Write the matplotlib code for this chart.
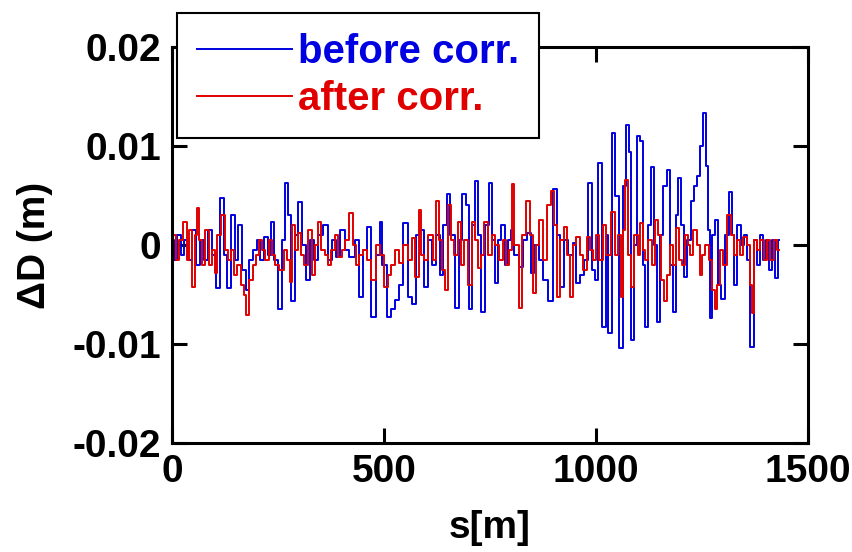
import numpy as np
import matplotlib
matplotlib.use("Agg")
from matplotlib import pyplot as plt

# s [m] and dispersion deviation [mm -> scaled below]
s_before = [0, 8, 16, 24, 32, 42, 52, 60, 70, 80, 90, 100, 106, 118, 126, 134, 144, 152, 160, 170,
            178, 186, 196, 204, 212, 222, 230, 236, 244, 255, 262, 271, 278, 285, 294, 302, 310, 321, 330, 340,
            350, 363, 372, 382, 392, 402, 412, 425, 436, 446, 456, 465, 476, 486, 493, 500, 512, 520, 530, 540,
            552, 560, 571, 580, 589, 598, 608, 618, 627, 636, 644, 653, 661, 672, 680, 688, 697, 705, 712, 717,
            725, 733, 742, 752, 758, 764, 772, 781, 790, 797, 804, 812, 823, 832, 842, 850, 860, 870, 880, 896,
            903, 912, 920, 930, 940, 950, 958, 968, 976, 986, 994, 1000, 1011, 1020, 1026, 1033, 1042, 1050, 1061, 1068,
            1075, 1080, 1087, 1095, 1100, 1108, 1114, 1120, 1127, 1134, 1140, 1148, 1155, 1162, 1172, 1178, 1186, 1192, 1198, 1205,
            1212, 1220, 1228, 1235, 1242, 1250, 1257, 1263, 1267, 1271, 1278, 1286, 1292, 1300, 1310, 1318, 1324, 1330, 1338, 1345,
            1352, 1360, 1370, 1376, 1385, 1392, 1398, 1405, 1412, 1420, 1428, 1432]
d_before = [0.5, -1.5, 1.0, -1.0, 0.5, -1.5, 1.5, -2.0, 0.5, -1.5, 1.5, -1.0, -4.3, 4.8, -1.0, -4.3, 3.0, -1.5, 2.0, -2.5,
            -4.5, -1.5, -0.5, 0.5, -1.5, 0.8, -1.0, 2.3, -1.5, -6.4, 0.5, 6.3, 3.0, -5.6, 1.0, 4.3, 0.0, -3.5, 0.5, -1.5,
            1.0, 2.0, -1.5, 0.5, -1.2, 1.5, -0.5, -1.2, 0.5, -5.2, -0.5, 1.8, -7.3, -1.0, 2.3, -2.0, -7.3, -6.5, -5.5, -4.0,
            2.2, -5.2, -5.9, 1.0, 1.5, -4.2, 0.5, -2.0, 1.0, -3.0, 2.0, 5.2, 1.0, -6.3, 0.5, 5.2, 4.0, -6.4, 2.0, 6.5,
            1.0, -6.8, 2.0, 6.3, 0.5, -3.8, 0.5, 2.0, -2.0, 0.5, 1.5, -1.0, -2.2, 0.5, 1.2, -2.8, 0.0, -1.5, -3.5, -5.6,
            5.7, 1.0, -4.2, 0.5, -1.0, 0.2, -3.8, -3.0, -1.5, 6.3, -2.5, -3.5, 8.3, -8.3, 1.0, -8.9, 11.3, 5.0, -10.4, 6.0,
            12.1, 9.4, -9.6, 0.0, 11.0, 10.5, -2.0, -8.3, 2.0, 7.9, 0.0, -7.8, 1.0, 6.0, 7.6, -2.0, -6.8, 3.0, 6.8, 2.0,
            -3.2, 0.5, 4.5, 6.0, 7.0, 10.0, 13.3, 8.0, 1.5, -7.4, 1.0, 2.5, -4.0, -5.4, 1.0, 5.4, 1.0, -4.0, 2.0, 0.0,
            1.0, -1.5, -10.3, 0.5, -2.0, 1.0, -1.5, 0.5, -2.5, 0.5, -3.3, 0.5]

s_after = [0, 6, 12, 20, 31, 38, 44, 50, 56, 61, 68, 75, 82, 90, 98, 103, 110, 120, 128, 136,
           144, 150, 158, 166, 172, 179, 186, 194, 200, 208, 216, 224, 232, 240, 248, 255, 261, 268, 275, 280,
           287, 294, 301, 308, 316, 326, 333, 340, 348, 356, 364, 372, 380, 388, 396, 405, 412, 422, 430, 438,
           446, 455, 465, 476, 486, 494, 505, 512, 520, 530, 540, 552, 560, 570, 578, 585, 592, 598, 610, 620,
           627, 635, 641, 648, 655, 662, 670, 678, 686, 694, 702, 712, 719, 726, 733, 741, 750, 758, 768, 776,
           784, 792, 798, 804, 812, 823, 830, 842, 848, 855, 862, 870, 880, 889, 898, 905, 912, 920, 928, 936,
           944, 950, 958, 966, 975, 982, 990, 996, 1005, 1012, 1020, 1028, 1042, 1050, 1056, 1061, 1067, 1073, 1080, 1087,
           1095, 1102, 1108, 1114, 1120, 1128, 1136, 1144, 1150, 1158, 1166, 1172, 1180, 1186, 1194, 1200, 1206, 1213, 1220, 1226,
           1234, 1242, 1248, 1255, 1262, 1270, 1278, 1283, 1290, 1297, 1305, 1316, 1322, 1328, 1336, 1344, 1352, 1360, 1366, 1370,
           1376, 1384, 1392, 1400, 1408, 1416, 1424, 1432]
d_after = [-1.0, 1.0, -1.5, 0.5, 2.3, -1.5, 1.5, -4.2, 1.0, 3.7, 0.5, -2.0, 1.5, -2.0, -0.5, -2.8, 1.0, 3.0, -0.5, -1.5,
           -0.5, -3.0, -2.0, -4.0, -5.0, -7.1, -3.5, -2.0, -1.0, 0.5, -0.5, -1.5, 0.5, -1.0, -2.0, -2.5, -2.5, -0.5, -1.5, -3.7,
           2.0, -0.5, 1.2, -1.0, -2.0, 1.5, -3.0, 0.0, 2.3, -0.5, -1.0, -2.0, -0.5, 1.0, -1.2, -0.5, 0.5, 3.2, 0.0, -2.0,
           -1.0, -0.5, -1.5, -3.5, 0.0, -1.0, -4.2, -3.0, -2.0, -0.5, -1.8, 0.0, -1.5, 0.7, -3.2, 3.5, -1.0, -1.5, 1.0, -1.5,
           4.5, 0.5, -2.5, -4.5, 4.0, 0.5, -1.0, 2.3, -2.0, 0.5, -4.0, 2.3, 0.5, -2.3, -1.0, 2.3, -1.0, 1.0, 0.0, -1.5,
           0.5, -2.0, -0.5, 6.2, 0.0, -6.3, 1.0, 4.5, 1.0, -4.8, 0.0, 2.5, -1.5, 4.0, 5.5, 2.0, -5.2, 0.5, 1.8, -1.0,
           -5.2, 0.0, 0.8, -1.0, -2.5, 0.8, -0.5, -1.5, 1.0, -1.5, 2.0, -1.0, 3.3, -1.0, 1.0, -5.2, 1.5, 6.6, -1.0, -4.2,
           1.0, -1.0, 2.2, -0.5, -1.5, 0.5, -2.0, 2.5, 1.0, -3.5, -5.6, -3.0, 0.0, -2.0, 1.7, -1.5, -2.0, 1.0, 0.0, -1.0,
           1.5, 0.0, -3.0, -1.0, 0.0, -1.5, -4.5, -6.4, -4.0, -0.5, -2.0, 3.0, 1.0, -1.0, 0.5, -1.0, 0.8, 0.0, -4.0, -6.9,
           0.5, -0.5, 0.5, -1.5, 0.5, -1.5, 0.5, -0.5]

xticks = [0, 500, 1000, 1500]
yticks = [-0.02, -0.01, 0, 0.01, 0.02]
ytick_labels = ['-0.02', '-0.01', '0', '0.01', '0.02']

plt.rcParams['font.family'] = ['Liberation Sans', 'DejaVu Sans']
plt.rcParams['font.weight'] = 'bold'

fig = plt.figure(figsize=(8.52, 5.52), dpi=100)
ax = fig.add_axes([0.202, 0.197, 0.746, 0.718])

ax.plot(s_before, np.array(d_before) * 1e-3, color='#0000e0', lw=1.4,
        drawstyle='steps-mid', label='before corr.')
ax.plot(s_after, np.array(d_after) * 1e-3, color='#e00000', lw=1.4,
        drawstyle='steps-mid', label='after corr.')

ax.set_xlim(0, 1500)
ax.set_ylim(-0.02, 0.02)
ax.set_xticks(xticks)
ax.set_yticks(yticks)
ax.set_yticklabels(ytick_labels)
ax.tick_params(direction='in', length=11, width=2.2, labelsize=28, top=True, right=True, pad=8)
for sp in ax.spines.values():
    sp.set_linewidth(2.2)

ax.set_xlabel('s[m]', fontsize=28, fontweight='bold', labelpad=14)
ax.set_ylabel('ΔD (m)', fontsize=28, fontweight='bold', labelpad=14)

leg = fig.legend(loc='upper left', bbox_to_anchor=(0.208, 0.976), fontsize=29, frameon=True,
                 fancybox=False, framealpha=1, edgecolor='black', handlelength=2.35,
                 handletextpad=0.15, borderpad=0.5, labelspacing=0.22, borderaxespad=0)
leg.get_frame().set_linewidth(1.5)
for txt, c in zip(leg.get_texts(), ['#0000e0', '#e00000']):
    txt.set_color(c)

fig.savefig('out.png', dpi=100)
